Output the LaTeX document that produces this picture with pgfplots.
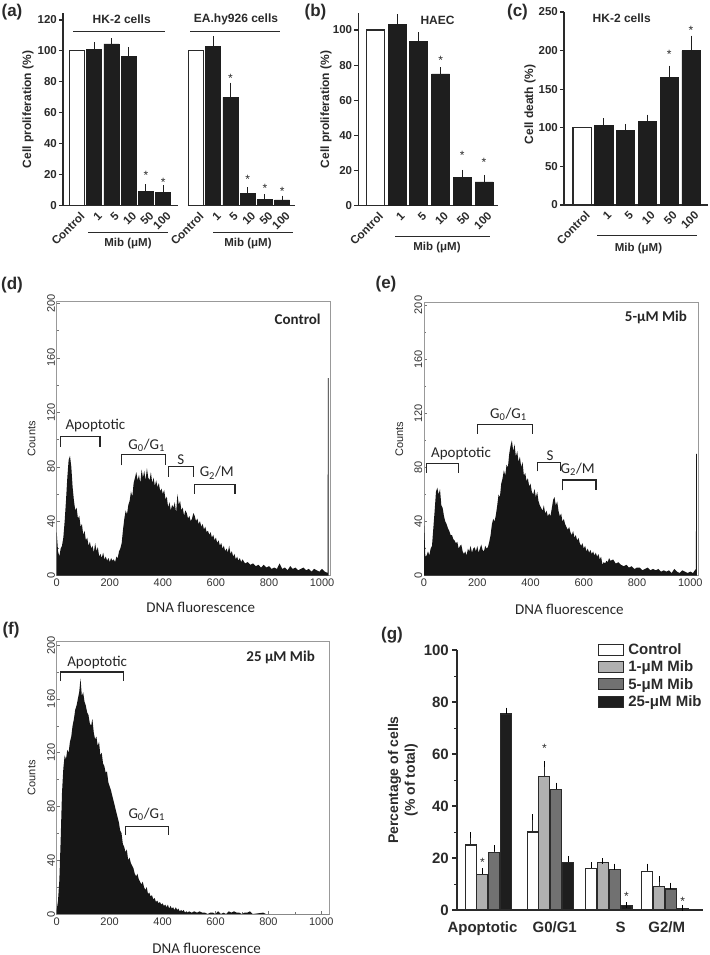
\documentclass[border=0pt]{standalone}
\usepackage{fontspec}
\setmainfont{Liberation Sans}
\newfontfamily\carlito{Carlito}
\usepackage{pgfplots}
\pgfplotsset{compat=1.18}
\usepackage{pgfplotstable}

\definecolor{barblk}{HTML}{1E1E1E}
\definecolor{axgray}{HTML}{2A2A2A}
\definecolor{lgray}{HTML}{B0B0B0}
\definecolor{mgray}{HTML}{717171}
\definecolor{histfill}{HTML}{161616}

\newcommand{\fs}[1]{\fontsize{#1}{#1}\selectfont}

\tikzset{
 brk/.style={black!85, line width=1.1pt},
 htxt/.style={font=\carlito\fs{15}, text=black!85},
}

\pgfplotsset{
 barax/.style={scale only axis, axis lines*=left, ymin=0,
   axis line style={axgray, line width=1.1pt},
   /pgf/number format/assume math mode=true,
   xtick style={draw=none},
   ytick style={axgray, line width=1.1pt}, tick align=outside, major tick length=4pt,
   ytick pos=left,
   yticklabel style={font=\bfseries\fs{11.5}, text=axgray, inner sep=2pt},
   xticklabel style={font=\bfseries\fs{11.5}, text=axgray, rotate=45, anchor=east, inner sep=2pt, xshift=3pt, yshift=-7pt},
   ylabel style={font=\bfseries\fs{12}, text=axgray, anchor=center},
   clip=false,
 },
 whitebar/.style={ybar, bar width=#1, bar shift=0pt, fill=white, draw=axgray, line width=1.1pt},
 blackbar/.style={ybar, bar width=#1, bar shift=0pt, fill=barblk, draw=barblk, line width=0.8pt,
   error bars/y dir=plus, error bars/y explicit,
   error bars/error bar style={line width=1pt, barblk},
   error bars/error mark options={line width=1pt, mark size=3.5pt, barblk}},
 stars/.style={only marks, mark=text, text mark={*}, text mark as node=true,
   text mark style={font=\fs{12}, text=axgray, inner sep=0pt, anchor=center}},
 histo/.style={scale only axis, xmin=0, xmax=1030, ymin=0,
   axis line style={draw=black!40, line width=0.6pt},
   xtick={0,200,...,1000}, ytick={0,40,...,200}, minor x tick num=1, minor y tick num=1,
   tick align=inside, tick pos=left, tick style={black!55, line width=0.5pt},
   major tick length=3pt, minor tick length=2pt,
   /pgf/number format/assume math mode=true, /pgf/number format/1000 sep={},
   yticklabel style={rotate=90, anchor=south, font=\fs{11}, text=black!80, inner sep=1.5pt},
   xticklabel style={font=\fs{11}, text=black!80},
   xlabel={DNA fluorescence}, ylabel={Counts},
   xlabel style={font=\carlito\fs{15}, text=black!85, anchor=center},
   ylabel style={font=\fs{11}, text=black!85, anchor=center},
   clip mode=individual},
}

\pgfplotstableread{
x y e
1 101 2.2
2 104.5 1.3
3 96.3 3.7
4 9 2.6
5 8.4 2.4
7.9 102.8 4.7
8.9 70 7.3
9.9 8 1.7
10.9 4.1 0.9
11.9 3.7 0.6
}\dataA

\pgfplotstableread{
x y e
1 103 4
2 93.4 3.4
3 75 1.8
4 15.9 2.5
5 13.5 2.1
}\dataB

\pgfplotstableread{
x y e
1 102.5 5.5
2 96.4 4.3
3 108 4.4
4 165.6 10.4
5 199.7 15.2
}\dataC

\pgfplotstableread{
x y e
13.6 25 3.8
75.6 30 5.6
134.1 16 1.3
190.3 14.7 2
}\gCtrl
\pgfplotstableread{
x y e
25.4 13.8 1.2
87.4 51.3 4.7
145.9 18.3 0.4
202.1 9.2 2.7
}\gOne
\pgfplotstableread{
x y e
37.2 22.2 1.5
99.2 46.2 1.6
157.7 15.6 1.1
213.9 8.1 1.3
}\gFive
\pgfplotstableread{
x y e
49.0 75.4 1.3
111.0 18.3 1.4
169.5 1.6 0.3
225.7 0.6 0.2
}\gTwentyFive

\begin{document}
\begin{tikzpicture}
\useasboundingbox (0,0) rectangle (709pt,-955pt);

% ---------------- panel (a)
\begin{axis}[barax, at={(63pt,-205.7pt)}, anchor=south west, width=232pt, height=192.7pt,
  xmin=-0.81, xmax=12.64, ymax=124.5, ytick={0,20,...,120},
  x axis line style={draw=none},
  xtick={0,1,2,3,4,5,6.9,7.9,8.9,9.9,10.9,11.9},
  xticklabels={Control,1,5,10,50,100,Control,1,5,10,50,100},
  ylabel={Cell proliferation (\%)}, ylabel style={at={(axis description cs:-0.151,0.5)}}]
\addplot[whitebar=0.87] coordinates {(0,100) (6.9,100)};
\addplot[blackbar=0.87] table[x=x,y=y,y error=e] {\dataA};
\addplot[stars] coordinates {(4,19.5) (5,15.2) (8.9,82) (9.9,17.3) (10.9,10.9) (11.9,9.4)};
\draw[axgray, line width=1.1pt] (axis cs:-0.81,0) -- (axis cs:5.86,0);
\draw[axgray, line width=1.1pt] (axis cs:6.43,0) -- (axis cs:12.64,0);
\end{axis}

% ---------------- panel (b)
\begin{axis}[barax, at={(358.3pt,-205.7pt)}, anchor=south west, width=139.4pt, height=192.7pt,
  xmin=-0.79, xmax=5.63, ymax=109.7, ytick={0,20,...,100},
  xtick={0,...,5}, xticklabels={Control,1,5,10,50,100},
  ylabel={Cell proliferation (\%)}, ylabel style={at={(axis description cs:-0.232,0.5)}}]
\addplot[whitebar=0.83] coordinates {(0,100)};
\addplot[blackbar=0.83] table[x=x,y=y,y error=e] {\dataB};
\addplot[stars] coordinates {(3,82.8) (4,28.6) (5,24.6)};
\end{axis}

% ---------------- panel (c)
\begin{axis}[barax, at={(564pt,-205pt)}, anchor=south west, width=144pt, height=193pt,
  xmin=-0.83, xmax=5.78, ymax=250, ytick={0,50,...,250},
  xtick={0,...,5}, xticklabels={Control,1,5,10,50,100},
  ylabel={Cell death (\%)}, ylabel style={at={(axis description cs:-0.236,0.52)}}]
\addplot[whitebar=0.83] coordinates {(0,100)};
\addplot[blackbar=0.83] table[x=x,y=y,y error=e] {\dataC};
\addplot[stars] coordinates {(4,195) (5,226.5)};
\end{axis}

% annotations top row
\begin{scope}[font=\bfseries\fs{12}, text=axgray]
\node at (121.7pt,-19pt) {HK-2 cells};
\node at (236pt,-19pt) {EA.hy926 cells};
\node at (437.5pt,-20pt) {HAEC};
\node at (621.7pt,-18.3pt) {HK-2 cells};
\end{scope}
\begin{scope}[axgray, line width=1pt]
\draw (73pt,-31.7pt) -- (165pt,-31.7pt);
\draw (190pt,-31.7pt) -- (280pt,-31.7pt);
\draw (88pt,-232pt) -- (168pt,-232pt);
\draw (213pt,-232pt) -- (293pt,-232pt);
\draw (395pt,-236pt) -- (490pt,-236pt);
\draw (597pt,-235pt) -- (697pt,-235pt);
\end{scope}
\begin{scope}[font=\bfseries\fs{11.5}, text=axgray]
\node at (128pt,-244pt) {Mib (μM)};
\node at (248pt,-244pt) {Mib (μM)};
\node at (437pt,-248pt) {Mib (μM)};
\node at (638.5pt,-248.5pt) {Mib (μM)};
\end{scope}

% panel letters
\begin{scope}[font=\bfseries\fs{17}, text=axgray]
\node at (12pt,-12pt) {(a)};
\node at (315.5pt,-12pt) {(b)};
\node at (517.5pt,-12pt) {(c)};
\node at (12pt,-285pt) {(d)};
\node at (386pt,-284pt) {(e)};
\node at (11pt,-630pt) {(f)};
\node at (392pt,-635pt) {(g)};
\end{scope}

% ---------------- panel (d)
\begin{axis}[histo, at={(56.7pt,-575.7pt)}, anchor=south west, width=273.3pt, height=274pt, ymax=201.2,
  xlabel style={at={(axis description cs:0.527,-0.117)}}, ylabel style={at={(axis description cs:-0.092,0.5)}}]
\addplot[fill=histfill, draw=none] coordinates {
(0,32) (5,18) (10,14) (15,20) (20,22) (25,28) (30,40) (35,55) (40,72) (45,85)
(50,88) (55,80) (60,65) (65,55) (70,48) (75,50) (80,42) (85,44) (90,36) (95,38)
(100,30) (105,33) (110,26) (115,28) (120,22) (125,25) (130,20) (135,22) (140,17) (145,24)
(150,18) (155,21) (160,14) (165,16) (170,13) (175,17) (180,12) (185,14) (190,11) (195,13)
(200,10) (205,13) (210,11) (215,12) (220,10) (225,14) (230,13) (235,18) (240,20) (245,24)
(250,34) (255,42) (260,48) (265,45) (270,52) (275,55) (280,62) (285,58) (290,68) (295,72)
(300,76) (305,70) (310,74) (315,68) (320,78) (325,72) (330,77) (335,70) (340,79) (345,72)
(350,70) (355,76) (360,68) (365,72) (370,66) (375,70) (380,65) (385,68) (390,62) (395,64)
(400,60) (405,63) (410,56) (415,58) (420,50) (425,54) (430,48) (435,52) (440,50) (445,54)
(450,46) (455,60) (460,52) (465,55) (470,48) (475,50) (480,44) (485,48) (490,46) (495,42)
(500,44) (505,40) (510,42) (515,46) (520,44) (525,40) (530,42) (535,38) (540,40) (545,36)
(550,38) (555,34) (560,36) (565,32) (570,33) (575,30) (580,32) (585,28) (590,30) (595,26)
(600,28) (605,24) (610,26) (615,22) (620,24) (625,20) (630,22) (635,18) (640,20) (645,17)
(650,22) (655,16) (660,18) (665,14) (670,16) (675,12) (680,14) (685,11) (690,13) (695,10)
(700,12) (710,9) (720,10) (730,8) (740,9) (750,7) (760,8) (770,6) (780,8) (790,6)
(800,7) (810,5) (820,6) (830,5) (840,9) (850,5) (860,6) (870,4) (880,7) (890,5)
(900,6) (910,4) (920,5) (930,6) (940,4) (950,5) (960,3) (970,5) (980,4) (990,3)
(1000,5) (1010,3) (1021,2) (1022,145) (1025,145)} \closedcycle;
\draw[brk] (axis cs:16,94.7) |- (axis cs:163,102) -- (axis cs:163,94.7);
\draw[brk] (axis cs:245,81) |- (axis cs:411,89) -- (axis cs:411,81);
\draw[brk] (axis cs:421,72.7) |- (axis cs:515,80.5) -- (axis cs:515,72.7);
\draw[brk] (axis cs:519,60) |- (axis cs:672,67) -- (axis cs:672,60);
\node[htxt] at (axis cs:146,110.6) {Apoptotic};
\node[htxt] at (axis cs:339,96) {G\textsubscript{0}/G\textsubscript{1}};
\node[htxt] at (axis cs:468,85.5) {S};
\node[htxt] at (axis cs:603,75.6) {G\textsubscript{2}/M};
\node[htxt, font=\carlito\bfseries\fs{15}] at (axis cs:908,188) {Control};
\end{axis}

% ---------------- panel (e)
\begin{axis}[histo, at={(424pt,-575.7pt)}, anchor=south west, width=274.3pt, height=273.4pt, ymax=202,
  xlabel style={at={(axis description cs:0.53,-0.122)}}, ylabel style={at={(axis description cs:-0.09,0.5)}}]
\addplot[fill=histfill, draw=none] coordinates {
(0,42) (5,14) (10,15) (15,18) (20,15) (25,20) (30,22) (35,35) (40,48) (45,62)
(50,65) (55,60) (60,64) (65,52) (70,50) (75,44) (80,40) (85,38) (90,35) (95,33)
(100,30) (105,30) (110,27) (115,26) (120,24) (125,25) (130,20) (135,22) (140,23) (145,18)
(150,16) (155,18) (160,15) (165,20) (170,18) (175,22) (180,17) (185,20) (190,21) (195,18)
(200,22) (205,17) (210,20) (215,23) (220,19) (225,18) (230,22) (235,20) (240,21) (245,25)
(250,30) (255,38) (260,42) (265,40) (270,45) (275,52) (280,60) (285,58) (290,68) (295,72)
(300,78) (305,74) (310,82) (315,80) (320,90) (325,96) (330,100) (335,92) (340,97) (345,88)
(350,92) (355,84) (360,88) (365,80) (370,84) (375,74) (380,76) (385,70) (390,72) (395,66)
(400,68) (405,62) (410,60) (415,64) (420,58) (425,62) (430,55) (435,52) (440,50) (445,48)
(450,52) (455,46) (460,48) (465,44) (470,46) (475,44) (480,50) (485,56) (490,58) (495,52)
(500,55) (505,48) (510,44) (515,46) (520,40) (525,42) (530,38) (535,36) (540,34) (545,36)
(550,32) (555,30) (560,33) (565,28) (570,30) (575,26) (580,28) (585,24) (590,22) (595,24)
(600,20) (605,22) (610,18) (615,20) (620,17) (625,19) (630,16) (635,18) (640,15) (645,17)
(650,14) (655,16) (660,12) (665,14) (670,8) (675,10) (680,9) (685,11) (690,10) (695,13)
(700,11) (710,12) (720,9) (730,10) (740,8) (750,7) (760,8) (770,6) (780,7) (790,5)
(800,6) (810,6) (820,4) (830,5) (840,6) (850,4) (860,5) (870,4) (880,5) (890,3)
(900,4) (910,3) (920,4) (930,2) (940,5) (950,3) (960,2) (970,4) (980,3) (990,2)
(1000,3) (1010,2) (1021,5) (1022,90) (1025,90)} \closedcycle;
\draw[brk] (axis cs:202,105) |- (axis cs:408,112) -- (axis cs:408,105);
\draw[brk] (axis cs:10,76) |- (axis cs:129,83) -- (axis cs:129,76);
\draw[brk] (axis cs:427,77) |- (axis cs:514,83.5) -- (axis cs:514,77);
\draw[brk] (axis cs:521,63) |- (axis cs:646,70.7) -- (axis cs:646,63);
\node[htxt] at (axis cs:317,119) {G\textsubscript{0}/G\textsubscript{1}};
\node[htxt] at (axis cs:139,90) {Apoptotic};
\node[htxt] at (axis cs:473,89) {S};
\node[htxt] at (axis cs:577,78.6) {G\textsubscript{2}/M};
\node[htxt, font=\carlito\bfseries\fs{15}] at (axis cs:871,191) {5-μM Mib};
\end{axis}

% ---------------- panel (f)
\begin{axis}[histo, at={(56.7pt,-914pt)}, anchor=south west, width=272.6pt, height=272.3pt, ymax=202.5,
  xlabel style={at={(axis description cs:0.55,-0.125)}}, ylabel style={at={(axis description cs:-0.092,0.5)}}]
\addplot[fill=histfill, draw=none] coordinates {
(0,3) (5,10) (10,25) (15,55) (20,90) (25,108) (30,118) (35,115) (40,122) (45,120)
(50,128) (55,132) (60,140) (65,145) (70,152) (75,155) (80,160) (85,165) (90,175) (95,162)
(100,165) (105,158) (110,155) (115,150) (120,148) (125,142) (130,140) (135,145) (140,135) (145,130)
(150,132) (155,125) (160,128) (165,118) (170,120) (175,112) (180,110) (185,105) (190,106) (195,98)
(200,95) (205,92) (210,88) (215,84) (220,80) (225,76) (230,72) (235,68) (240,62) (245,60)
(250,52) (255,50) (260,46) (265,48) (270,40) (275,42) (280,38) (285,36) (290,34) (295,30)
(300,28) (305,30) (310,26) (315,24) (320,22) (325,24) (330,20) (335,18) (340,20) (345,15)
(350,16) (355,13) (360,14) (365,11) (370,12) (375,9) (380,10) (385,8) (390,9) (395,7)
(400,8) (405,6) (410,7) (415,5) (420,7) (425,4) (430,6) (435,4) (440,5) (445,3)
(450,5) (455,3) (460,4) (465,2) (470,3) (475,2) (480,3) (485,1) (490,2) (495,1)
(500,2) (510,1) (520,2) (530,1) (540,2) (550,1) (560,1) (570,0) (580,1) (590,1)
(600,0) (610,2) (620,0) (630,1) (640,0) (650,2) (660,1) (670,2) (680,1) (690,1)
(700,0) (710,1) (720,1) (730,2) (740,0) (780,1) (790,0) (1030,0)} \closedcycle;
\draw[brk] (axis cs:16,173.2) |- (axis cs:252,180) -- (axis cs:252,173.2);
\draw[brk] (axis cs:261,58.7) |- (axis cs:422,65.4) -- (axis cs:422,58.7);
\node[htxt] at (axis cs:153,186.8) {Apoptotic};
\node[htxt] at (axis cs:340,74.3) {G\textsubscript{0}/G\textsubscript{1}};
\node[htxt, font=\carlito\bfseries\fs{15}] at (axis cs:846,190.9) {25 μM Mib};
\end{axis}

% ---------------- panel (g)
\begin{axis}[scale only axis, at={(457pt,-910pt)}, anchor=south west, width=246pt, height=260pt,
  xmin=0, xmax=246, ymin=0, ymax=100, axis lines*=left, axis line style={axgray, line width=1.1pt},
  /pgf/number format/assume math mode=true,
  ytick={0,20,...,100}, minor y tick num=1, ytick pos=left, tick align=outside,
  ytick style={axgray, line width=1.1pt}, minor y tick style={axgray, line width=1pt},
  major tick length=5pt, minor tick length=3pt,
  xtick={25.5,97.7,163.7,209.7}, xticklabels={Apoptotic,G0/G1,S,G2/M}, xtick style={draw=none},
  yticklabel style={font=\bfseries\fs{15}, text=axgray, inner sep=3pt},
  xticklabel style={font=\bfseries\fs{15}, text=axgray, yshift=-3pt},
  ylabel={Percentage of cells\\(\% of total)},
  ylabel style={font=\bfseries\fontsize{14}{16.7}\selectfont, text=axgray, align=center, anchor=center, at={(axis description cs:-0.22,0.5)}},
  clip=false,
  legend style={at={(axis cs:141,103)}, anchor=north west, draw=none, fill=none,
    font=\bfseries\fs{15}, text=axgray, inner sep=0pt, row sep=3pt, nodes={inner sep=1pt},
    /tikz/every odd column/.append style={column sep=3pt}},
  legend cell align=left,
  legend image code/.code={\draw[#1, line width=1.1pt] (0pt,-5.5pt) rectangle (25pt,5.5pt);},
  ]
\addplot[ybar, bar width=11, bar shift=0pt, fill=white, draw=axgray, line width=1.1pt,
  error bars/y dir=plus, error bars/y explicit, error bars/error bar style={line width=1pt},
  error bars/error mark options={line width=1pt, mark size=3pt}] table[x=x,y=y,y error=e] {\gCtrl};
\addlegendentry{Control}
\addplot[ybar, bar width=11, bar shift=0pt, fill=lgray, draw=axgray, line width=1.1pt,
  error bars/y dir=plus, error bars/y explicit, error bars/error bar style={line width=1pt},
  error bars/error mark options={line width=1pt, mark size=3pt}] table[x=x,y=y,y error=e] {\gOne};
\addlegendentry{1-μM Mib}
\addplot[ybar, bar width=11, bar shift=0pt, fill=mgray, draw=axgray, line width=1.1pt,
  error bars/y dir=plus, error bars/y explicit, error bars/error bar style={line width=1pt},
  error bars/error mark options={line width=1pt, mark size=3pt}] table[x=x,y=y,y error=e] {\gFive};
\addlegendentry{5-μM Mib}
\addplot[ybar, bar width=11, bar shift=0pt, fill=barblk, draw=axgray, line width=1.1pt,
  error bars/y dir=plus, error bars/y explicit, error bars/error bar style={line width=1pt},
  error bars/error mark options={line width=1pt, mark size=3pt}] table[x=x,y=y,y error=e] {\gTwentyFive};
\addlegendentry{25-μM Mib}
\addplot[stars, forget plot] coordinates {(25.4,18.5) (87.4,62) (169.5,5.4) (225.7,3.5)};
\end{axis}
\end{tikzpicture}
\end{document}
